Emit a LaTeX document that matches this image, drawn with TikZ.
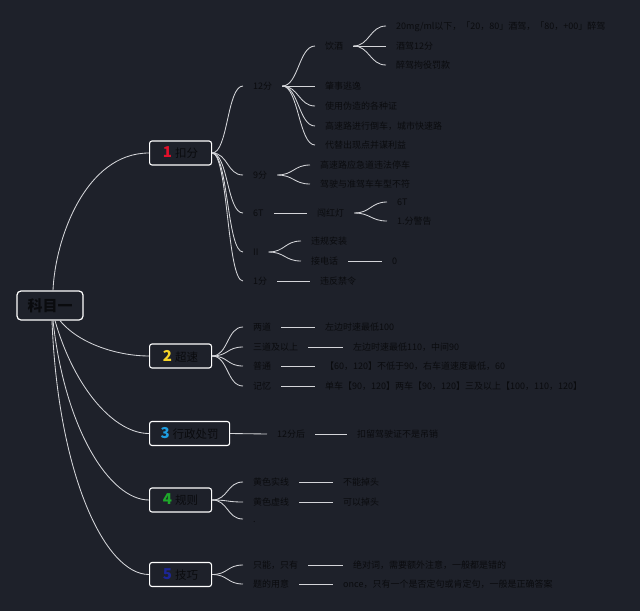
\documentclass[tikz,border=0pt]{standalone}
\usepackage{fontspec}
\setmainfont{Noto Sans CJK SC}
\definecolor{bg}{RGB}{30,33,42}
\definecolor{txt}{RGB}{10,11,14}
\definecolor{ln}{RGB}{212,213,217}
\definecolor{nA}{RGB}{226,16,42}
\definecolor{nB}{RGB}{246,212,40}
\definecolor{nC}{RGB}{30,157,224}
\definecolor{nD}{RGB}{30,168,42}
\definecolor{nE}{RGB}{28,38,150}
\newcommand\mnum[2]{{\color{#1}\fontsize{15}{15}\selectfont\bfseries #2}\hspace{3pt}}
\tikzset{
  leaf/.style={anchor=west, inner xsep=10pt, inner ysep=0pt, text height=7.2pt, text depth=0.9pt,
    font=\fontsize{9}{9}\selectfont, text=txt},
  mainbox/.style={draw=white, line width=1.1pt, rounded corners=2.5pt, anchor=west,
    minimum height=24pt, minimum width=62pt, inner xsep=11pt, text=txt,
    font=\fontsize{11.5}{12}\selectfont},
  rootbox/.style={draw=white, line width=1.2pt, rounded corners=4pt, minimum width=66pt,
    minimum height=29pt, text=txt, font=\fontsize{15}{15}\selectfont\bfseries},
  conn/.style={draw=ln, line width=0.85pt},
}
\begin{document}
\begin{tikzpicture}[x=1pt,y=-1pt]
\fill[bg] (0,0) rectangle (640,611);
\useasboundingbox (0,0) rectangle (640,611);

% root and main nodes
\node[rootbox] (root) at (50,305.5) {科目一};
\node[mainbox] (m1) at (149,153) {\mnum{nA}{1}扣分};
\node[mainbox] (m2) at (149,356) {\mnum{nB}{2}超速};
\node[mainbox] (m3) at (149,433.5) {\mnum{nC}{3}行政处罚};
\node[mainbox] (m4) at (149,500) {\mnum{nD}{4}规则};
\node[mainbox] (m5) at (149,574.5) {\mnum{nE}{5}技巧};

\draw[conn] ([xshift=3pt]root.north) .. controls (55,240) and (85,153) .. (m1.west);
\draw[conn] ([xshift=10pt]root.south) .. controls (80,345) and (120,356) .. (m2.west);
\draw[conn] ([xshift=5pt]root.south) .. controls (75,390) and (115,433.5) .. (m3.west);
\draw[conn] ([xshift=3pt]root.south) .. controls (65,430) and (110,500) .. (m4.west);
\draw[conn] ([xshift=2pt]root.south) .. controls (58,475) and (105,574.5) .. (m5.west);

% 1 扣分
\node[leaf] (k12) at (243,86) {12分};
\node[leaf] (k9) at (243,175) {9分};
\node[leaf] (k6) at (243,213) {6T};
\node[leaf] (k3) at (243,252) {II};
\node[leaf] (k1) at (243,281) {1分};
\foreach \t in {k12,k9,k6,k3,k1}
  \draw[conn] (m1.east) .. controls +(16,0) and +(-16,0) .. (\t.west);

\node[leaf] (yj) at (315,46) {饮酒};
\node[leaf] (zs) at (315,86) {肇事逃逸};
\node[leaf] (wz) at (315,106) {使用伪造的各种证};
\node[leaf] (gs) at (315,126) {高速路进行倒车，城市快速路};
\node[leaf] (dt) at (315,145) {代替出现点并谋利益};
\foreach \t in {yj,zs,wz,gs,dt}
  \draw[conn] (k12.east) .. controls +(16,0) and +(-16,0) .. (\t.west);

\node[leaf] (ya) at (386,26) {20mg/ml以下，「20，80」酒驾，「80，+00」醉驾};
\node[leaf] (yb) at (386,46) {酒驾12分};
\node[leaf] (yc) at (386,65) {醉驾拘役罚款};
\foreach \t in {ya,yb,yc}
  \draw[conn] (yj.east) .. controls +(16,0) and +(-16,0) .. (\t.west);

\node[leaf] (ja) at (310,165) {高速路应急道违法停车};
\node[leaf] (jb) at (310,184) {驾驶与准驾车车型不符};
\foreach \t in {ja,jb}
  \draw[conn] (k9.east) .. controls +(16,0) and +(-16,0) .. (\t.west);

\node[leaf] (hd) at (307,213) {闯红灯};
\draw[conn] (k6.east) -- (hd.west);
\node[leaf] (ha) at (387,202) {6T};
\node[leaf] (hb) at (387,221) {1.分警告};
\foreach \t in {ha,hb}
  \draw[conn] (hd.east) .. controls +(16,0) and +(-16,0) .. (\t.west);

\node[leaf] (sa) at (301,241) {违规安装};
\node[leaf] (sb) at (301,261) {接电话};
\foreach \t in {sa,sb}
  \draw[conn] (k3.east) .. controls +(16,0) and +(-16,0) .. (\t.west);
\node[leaf] (sc) at (382,261) {0};
\draw[conn] (sb.east) -- (sc.west);

\node[leaf] (wf) at (310,281) {违反禁令};
\draw[conn] (k1.east) -- (wf.west);

% 2 超速
\node[leaf] (ca) at (243,327) {两道};
\node[leaf] (cb) at (243,347) {三道及以上};
\node[leaf] (cc) at (243,366) {普通};
\node[leaf] (cd) at (243,386) {记忆};
\foreach \t in {ca,cb,cc,cd}
  \draw[conn] (m2.east) .. controls +(16,0) and +(-16,0) .. (\t.west);
\node[leaf] (cae) at (315,327) {左边时速最低100};
\node[leaf] (cbe) at (343,347) {左边时速最低110，中间90};
\node[leaf] (cce) at (315,366) {【60，120】不低于90，右车道速度最低，60};
\node[leaf] (cde) at (315,386) {单车【90，120】两车【90，120】三及以上【100，110，120】};
\draw[conn] (ca.east) -- (cae.west);
\draw[conn] (cb.east) -- (cbe.west);
\draw[conn] (cc.east) -- (cce.west);
\draw[conn] (cd.east) -- (cde.west);

% 3 行政处罚
\node[leaf] (xa) at (267,434) {12分后};
\node[leaf] (xb) at (347,434) {扣留驾驶证不是吊销};
\draw[conn] (m3.east) -- (xa.west);
\draw[conn] (xa.east) -- (xb.west);

% 4 规则
\node[leaf] (ga) at (243,482) {黄色实线};
\node[leaf] (gb) at (243,502) {黄色虚线};
\node[leaf] (gc) at (243,519) {.};
\foreach \t in {ga,gb,gc}
  \draw[conn] (m4.east) .. controls +(16,0) and +(-16,0) .. (\t.west);
\node[leaf] (gae) at (333,482) {不能掉头};
\node[leaf] (gbe) at (333,502) {可以掉头};
\draw[conn] (ga.east) -- (gae.west);
\draw[conn] (gb.east) -- (gbe.west);

% 5 技巧
\node[leaf] (ta) at (243,565) {只能，只有};
\node[leaf] (tb) at (243,584) {题的用意};
\foreach \t in {ta,tb}
  \draw[conn] (m5.east) .. controls +(16,0) and +(-16,0) .. (\t.west);
\node[leaf] (tae) at (343,565) {绝对词，需要额外注意，一般都是错的};
\node[leaf] (tbe) at (333,584) {once，只有一个是否定句或肯定句，一般是正确答案};
\draw[conn] (ta.east) -- (tae.west);
\draw[conn] (tb.east) -- (tbe.west);
\end{tikzpicture}
\end{document}
